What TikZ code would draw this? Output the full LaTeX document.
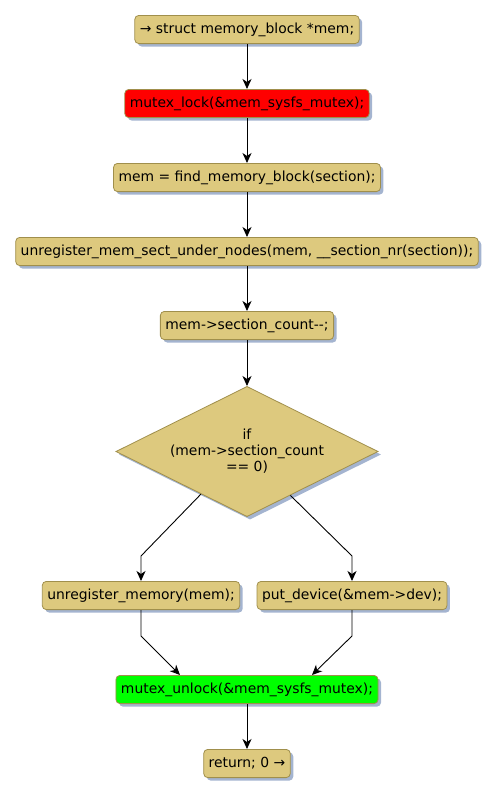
\documentclass[tikz,border=0pt]{standalone}
\usepackage{fontspec}
\setmainfont{DejaVu Sans}
\usepackage{tikz}
\usetikzlibrary{
  arrows.meta,
  shapes.geometric,
  positioning,
  calc,
  shadows
}
\definecolor{flTan}{HTML}{DDC97E}
\definecolor{flEdge}{HTML}{A08F4C}
\definecolor{flShadow}{HTML}{A4B4D0}
\definecolor{flLock}{HTML}{FF0000}
\definecolor{flUnlock}{HTML}{00FF00}
\tikzset{
  flnode/.style={
    draw=flEdge, line width=0.8pt, rounded corners=4pt, minimum height=28.2pt,
    inner xsep=5pt, font=\fontsize{13.9}{16}\selectfont, fill=flTan,
    drop shadow={shadow xshift=3pt, shadow yshift=-3pt, fill=flShadow, opacity=1}
  },
  lockbox/.style={flnode, fill=flLock},
  unlockbox/.style={flnode, fill=flUnlock},
  decision/.style={
    diamond, draw=flEdge, line width=0.8pt, fill=flTan, aspect=2,
    minimum width=262.2pt, minimum height=130.2pt, inner sep=0pt, align=center,
    font=\fontsize{13.9}{16}\selectfont,
    drop shadow={shadow xshift=3pt, shadow yshift=-3pt, fill=flShadow, opacity=1}
  },
  flow/.style={-{Stealth[length=10pt, width=9pt, inset=3pt]}, line width=0.9pt, black}
}

\begin{document}
\begin{tikzpicture}[x=1pt, y=1pt, node distance=45pt]
  \useasboundingbox (-247,29.5) rectangle (249,-768.5);
  \node[flnode] (decl) at (0,0) {→ struct memory\_block *mem;};
  \node[lockbox, below=of decl] (lock) {mutex\_lock(\&mem\_sysfs\_mutex);};
  \node[flnode, below=of lock] (find) {mem = find\_memory\_block(section);};
  \node[flnode, below=of find] (unreg) {unregister\_mem\_sect\_under\_nodes(mem, \_\_section\_nr(section));};
  \node[flnode, below=of unreg] (dec) {mem->section\_count-{}-;};
  \node[decision, below=46pt of dec] (cond) {if\\(mem->section\_count\\== 0)};
  \node[flnode, below=64pt of cond, xshift=-106pt] (unmem) {unregister\_memory(mem);};
  \node[flnode, below=64pt of cond, xshift=105pt] (putdev) {put\_device(\&mem->dev);};
  \coordinate (merge) at (cond |- unmem.south);
  \node[unlockbox, below=65pt of merge] (unlock) {mutex\_unlock(\&mem\_sysfs\_mutex);};
  \node[flnode, below=of unlock] (ret) {return; 0 →};

  \draw[flow] (decl) -- (lock);
  \draw[flow] (lock) -- (find);
  \draw[flow] (find) -- (unreg);
  \draw[flow] (unreg) -- (dec);
  \draw[flow] (dec) -- (cond);
  % branches of the test
  \draw[flow] ($(cond.south)!0.35!(cond.west)$) -- ($(unmem.north)+(0,25)$) -- (unmem.north);
  \draw[flow] ($(cond.south)!0.33!(cond.east)$) -- ($(putdev.north)+(0,25)$) -- (putdev.north);
  % join again
  \draw[flow] (unmem.south) -- ++(0,-26) -- ($(unlock.north)+(-67,0)$);
  \draw[flow] (putdev.south) -- ++(0,-26) -- ($(unlock.north)+(65,0)$);
  \draw[flow] (unlock) -- (ret);
\end{tikzpicture}
\end{document}
